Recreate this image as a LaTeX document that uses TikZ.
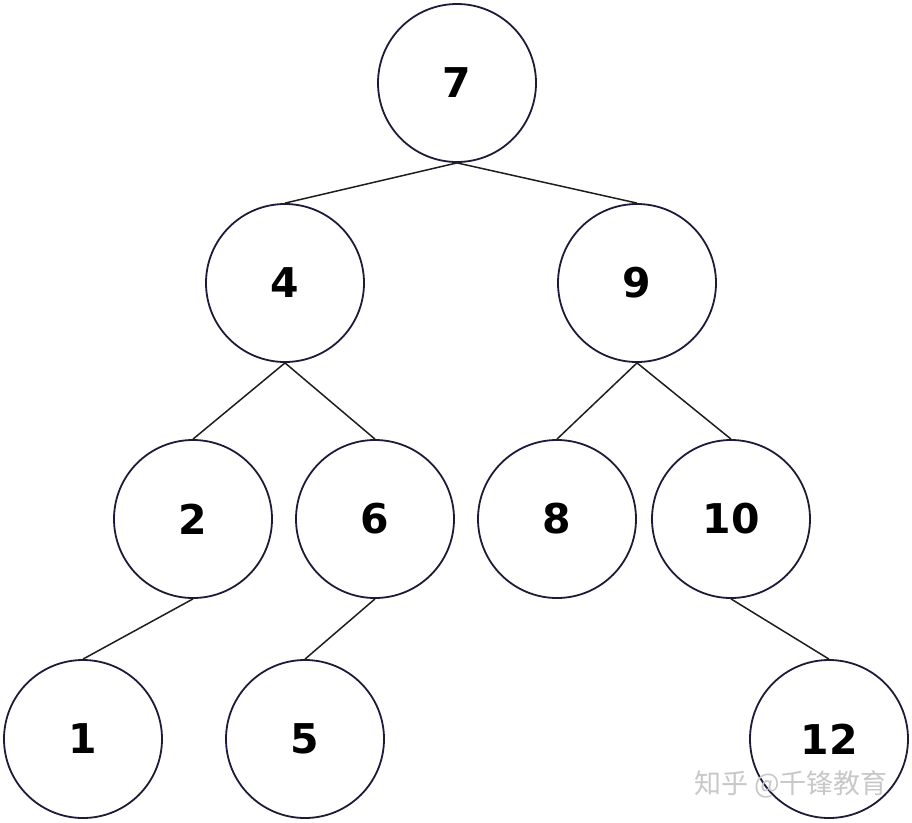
\documentclass[tikz,border=0pt]{standalone}
\usepackage{fontspec}
\setmainfont{DejaVu Sans}
\newfontfamily\cjk{Noto Sans CJK SC}
\definecolor{ringcol}{RGB}{28,28,58}
\definecolor{edgecol}{RGB}{30,30,30}
\definecolor{wmcol}{RGB}{200,200,200}
\begin{document}
\begin{tikzpicture}[x=1pt,y=-1pt,
  treenode/.style={circle,draw=ringcol,line width=1.8pt,minimum size=158pt,inner sep=0pt,
    font=\fontsize{41}{41}\selectfont\bfseries,fill=white},
  edge/.style={draw=edgecol,line width=1.5pt}]
\useasboundingbox (0,0) rectangle (912,822);
\fill[white] (0,0) rectangle (912,822);
\node[treenode] (n7) at (457,83) {7};
\node[treenode] (n4) at (285,283) {4};
\node[treenode] (n9) at (637,283) {9};
\node[treenode] (n2) at (193,519) {2};
\node[treenode] (n6) at (375,519) {6};
\node[treenode] (n8) at (557,519) {8};
\node[treenode] (n10) at (731,519) {10};
\node[treenode] (n1) at (83,739) {1};
\node[treenode] (n5) at (305,739) {5};
\node[treenode] (n12) at (829,739) {12};
\draw[edge] (n7.south) -- (n4.north);
\draw[edge] (n7.south) -- (n9.north);
\draw[edge] (n4.south) -- (n2.north);
\draw[edge] (n4.south) -- (n6.north);
\draw[edge] (n9.south) -- (n8.north);
\draw[edge] (n9.south) -- (n10.north);
\draw[edge] (n2.south) -- (n1.north);
\draw[edge] (n6.south) -- (n5.north);
\draw[edge] (n10.south) -- (n12.north);
\node[text=wmcol,font=\cjk\fontsize{27}{27}\selectfont,anchor=center] (wm) at (791,784) {知乎 @千锋教育};
\end{tikzpicture}
\end{document}
